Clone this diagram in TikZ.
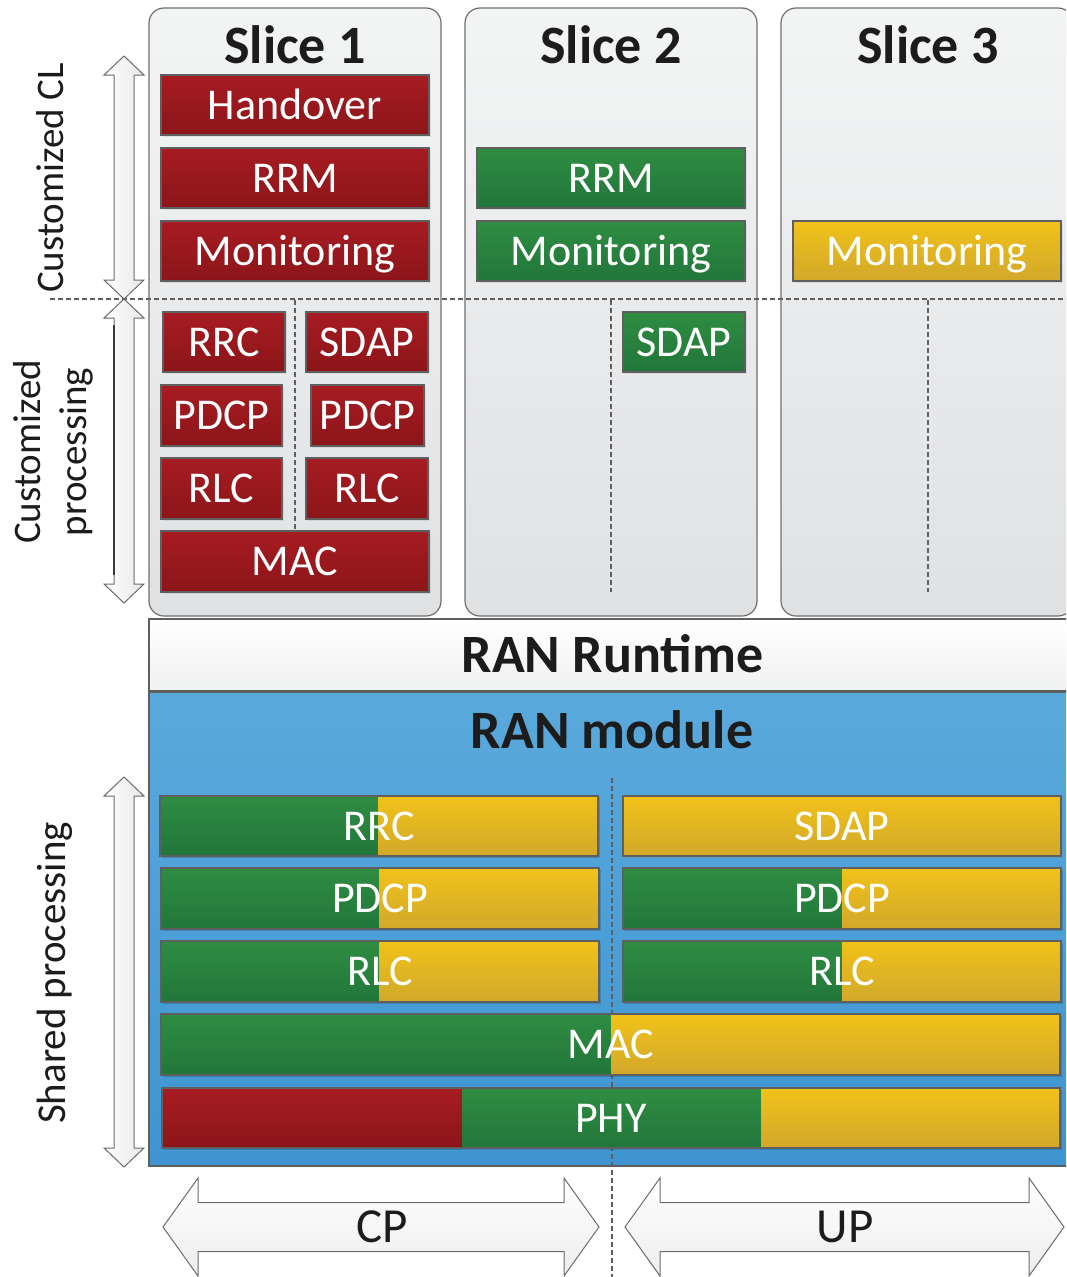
\documentclass[tikz,border=0pt]{standalone}
\usepackage{fontspec}
\setmainfont{Carlito}
\usetikzlibrary{shadows}
\definecolor{redT}{HTML}{A61C22}
\definecolor{redB}{HTML}{8C1519}
\definecolor{grnT}{HTML}{2F8D42}
\definecolor{grnB}{HTML}{21763A}
\definecolor{ylwT}{HTML}{F1C219}
\definecolor{ylwB}{HTML}{D1A82B}
\definecolor{bluT}{HTML}{5AA9DC}
\definecolor{bluB}{HTML}{3F95D0}
\definecolor{panT}{HTML}{F3F4F4}
\definecolor{panB}{HTML}{E0E1E3}
\definecolor{edge}{HTML}{5F5F5F}
\definecolor{ink}{HTML}{1C1C1C}
\newcommand\mkbox[6]{\node[#6, minimum width={#4-#2}, minimum height={#5-#3}] (#1) at ({(#2+#4)/2},{(#3+#5)/2})}
\newcommand\splitbox[9]{%
  \fill[black,opacity=0.15] ({#2+2},{#3+2}) rectangle ({#4+2},{#5+2});
  \shade[top color=#7T, bottom color=#7B] (#2,#3) rectangle (#6,#5);
  \shade[top color=#8T, bottom color=#8B] (#6,#3) rectangle (#4,#5);
  \mkbox{#1}{#2}{#3}{#4}{#5}{laybase}{#9};}
\newcommand\varrow[2]{%
  \draw[arrsty] (124,#1) -- (144,{#1+19}) -- (134,{#1+19}) -- (134,{#2-19}) -- (144,{#2-19}) -- (124,#2) -- (104,{#2-19}) -- (114,{#2-19}) -- (114,{#1+19}) -- (104,{#1+19}) -- cycle;}
\newcommand\harrow[3]{%
  \draw[harrsty] (#1,#3) -- ({#1+35},{#3-49}) -- ({#1+35},{#3-24.5}) -- ({#2-35},{#3-24.5}) -- ({#2-35},{#3-49}) -- (#2,#3) -- ({#2-35},{#3+49}) -- ({#2-35},{#3+24.5}) -- ({#1+35},{#3+24.5}) -- ({#1+35},{#3+49}) -- cycle;}
\tikzset{
  panel/.style={draw=edge!90, line width=1.2pt, rounded corners=15pt, top color=panT, bottom color=panB, inner sep=0},
  laybase/.style={draw=edge, line width=1.2pt, inner sep=0, text=white, font=\fontsize{44}{44}\selectfont, text height=28pt, text depth=0pt},
  lay/.style={laybase, drop shadow={opacity=0.15, shadow xshift=2pt, shadow yshift=-2pt}},
  redlay/.style={lay, top color=redT, bottom color=redB},
  grnlay/.style={lay, top color=grnT, bottom color=grnB},
  ylwlay/.style={lay, top color=ylwT, bottom color=ylwB},
  title/.style={inner sep=0, text=ink, font=\bfseries\fontsize{54}{54}\selectfont, text height=35pt, text depth=0pt},
  side/.style={inner sep=0, text=ink, font=\fontsize{39}{39}\selectfont, rotate=90, anchor=base},
  dline/.style={draw=edge, line width=2.2pt, dash pattern=on 5pt off 3pt},
  arrsty/.style={draw=gray!85!black, line width=1pt, left color=white, right color=gray!18},
  harrsty/.style={draw=gray!85!black, line width=1pt, top color=white, bottom color=gray!14},
}
\begin{document}
\begin{tikzpicture}[x=1pt,y=-1pt]
\useasboundingbox (0,0) rectangle (1066,1277);
\clip (0,0) rectangle (1066,1277);
\fill[white] (0,0) rectangle (1066,1277);
% slice panels
\node[panel, minimum width=292, minimum height=608] (s1) at (295,312) {};
\node[panel, minimum width=292, minimum height=608] (s2) at (611,312) {};
\node[panel, minimum width=292, minimum height=608] (s3) at (927,312) {};
\node[title] (t1) at (295,46) {Slice 1};
\node[title] (t2) at (611,46) {Slice 2};
\node[title] (t3) at (928,46) {Slice 3};
% dashed separators
\draw[dline] (50,299) -- (1066,299);
\draw[dline] (295,300) -- (295,531);
\draw[dline] (611,300) -- (611,592);
\draw[dline] (928,300) -- (928,592);
% slice 1
\mkbox{h1}{161}{75}{429}{135}{redlay}{Handover};
\mkbox{rrm1}{161}{148}{429}{208}{redlay}{RRM};
\mkbox{mon1}{161}{221}{429}{281}{redlay}{Monitoring};
\mkbox{rrc1}{163}{312}{285}{372}{redlay}{RRC};
\mkbox{sdap1}{306}{312}{428}{372}{redlay}{SDAP};
\mkbox{pdcp1a}{161}{385}{282}{446}{redlay}{PDCP};
\mkbox{pdcp1b}{311}{385}{424}{446}{redlay}{PDCP};
\mkbox{rlc1a}{161}{458}{282}{519}{redlay}{RLC};
\mkbox{rlc1b}{306}{458}{428}{519}{redlay}{RLC};
\mkbox{mac1}{161}{531}{429}{592}{redlay}{MAC};
% slice 2
\mkbox{rrm2}{477}{148}{745}{208}{grnlay}{RRM};
\mkbox{mon2}{477}{221}{745}{281}{grnlay}{Monitoring};
\mkbox{sdap2}{623}{312}{745}{372}{grnlay}{SDAP};
% slice 3
\mkbox{mon3}{793}{221}{1061}{281}{ylwlay}{Monitoring};
% RAN runtime and module
\node[draw=edge, line width=1.2pt, top color=white, bottom color=panT!85!panB, minimum width=927, minimum height=72, inner sep=0, text=ink, font=\bfseries\fontsize{54}{54}\selectfont, text height=35pt, text depth=0pt] (rt) at (612.5,655) {RAN Runtime};
\node[draw=edge, line width=1.2pt, top color=bluT, bottom color=bluB, minimum width=927, minimum height=474, inner sep=0] (rm) at (612.5,929) {};
\node[title] (rmt) at (612,731) {RAN module};
\draw[dline] (612,778) -- (612,1277);
% shared layers
\splitbox{rrcS}{160}{796}{598}{856}{378}{grn}{ylw}{RRC}
\mkbox{sdapS}{623}{796}{1061}{856}{ylwlay}{SDAP};
\splitbox{pdcpSa}{161}{868}{599}{929}{379}{grn}{ylw}{PDCP}
\splitbox{pdcpSb}{623}{868}{1061}{929}{842}{grn}{ylw}{PDCP}
\splitbox{rlcSa}{161}{941}{599}{1002}{379}{grn}{ylw}{RLC}
\splitbox{rlcSb}{623}{941}{1061}{1002}{842}{grn}{ylw}{RLC}
\splitbox{macS}{161}{1014}{1060}{1075}{611}{grn}{ylw}{MAC}
\fill[black,opacity=0.15] (164,1090) rectangle (1062,1150);
\shade[top color=redT, bottom color=redB] (162,1088) rectangle (462,1148);
\shade[top color=grnT, bottom color=grnB] (462,1088) rectangle (761,1148);
\shade[top color=ylwT, bottom color=ylwB] (761,1088) rectangle (1060,1148);
\mkbox{phyS}{162}{1088}{1060}{1148}{laybase}{PHY};
% side arrows
\varrow{56}{299}
\varrow{299}{603}
\draw[draw=edge!60!black, line width=2pt] (114,325) -- (114,575);
\varrow{777}{1167}
\node[side] (lcl) at (63,178) {Customized CL};
\node[side] (lcp1) at (40,452) {Customized};
\node[side] (lcp2) at (86,452) {processing};
\node[side, font=\fontsize{41}{41}\selectfont] (lsp) at (65,973) {Shared processing};
% bottom arrows
\harrow{163}{599}{1227}
\harrow{625}{1064}{1227}
\node[inner sep=0, text=ink, font=\fontsize{49}{49}\selectfont, text height=31pt, text depth=0pt] (cp) at (382,1227) {CP};
\node[inner sep=0, text=ink, font=\fontsize{49}{49}\selectfont, text height=31pt, text depth=0pt] (up) at (845,1227) {UP};
\end{tikzpicture}
\end{document}
